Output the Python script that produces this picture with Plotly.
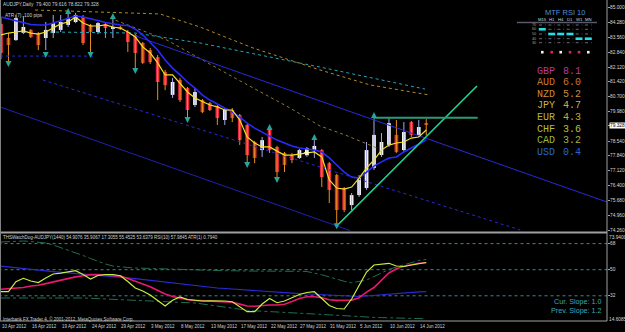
import plotly.graph_objects as go

# ---------------- data ----------------
bars = list(range(58))
date_pos = [0, 4, 8, 12, 16, 20, 24, 28, 32, 36, 40, 44, 48, 52, 56]
date_labels = ["10 Apr 2012", "16 Apr 2012", "19 Apr 2012", "24 Apr 2012", "29 Apr 2012",
               "3 May 2012", "8 May 2012", "13 May 2012", "17 May 2012", "22 May 2012",
               "27 May 2012", "31 May 2012", "5 Jun 2012", "10 Jun 2012", "14 Jun 2012"]

open_p = [84.20, 83.52, 83.42, 83.77, 83.91, 83.76, 83.52, 83.76, 83.91, 84.15,
          84.29, 84.53, 84.15, 83.81, 84.20, 83.96, 84.05, 83.81, 83.67, 83.28,
          82.94, 82.60, 81.88, 80.78, 81.50, 81.11, 80.29, 80.53, 80.39, 80.24,
          79.57, 80.05, 79.81, 79.33, 78.51, 78.12, 79.09, 78.27, 77.98, 77.88,
          77.74, 77.88, 78.12, 78.12, 77.49, 76.92, 76.29, 75.47, 75.95, 76.29,
          77.26, 77.88, 78.37, 78.85, 78.12, 79.47, 78.85, 79.400]
high_p = [84.50, 83.76, 84.63, 84.58, 83.95, 83.81, 84.29, 84.63, 84.63, 84.73,
          84.73, 84.63, 84.20, 84.29, 84.24, 84.48, 84.10, 83.91, 83.71, 83.33,
          83.04, 82.70, 81.98, 81.60, 81.60, 81.16, 81.11, 80.58, 80.44, 80.29,
          80.14, 80.14, 79.86, 79.38, 78.56, 78.75, 79.18, 78.32, 78.03, 77.98,
          78.17, 78.27, 78.60, 78.17, 77.55, 76.97, 76.34, 76.05, 76.92, 78.51,
          79.66, 78.94, 79.66, 79.57, 79.47, 79.52, 79.57, 79.616]
low_p = [82.50, 82.36, 83.38, 83.71, 83.52, 82.94, 82.94, 83.52, 83.81, 84.05,
         84.24, 83.18, 82.80, 83.71, 83.52, 83.52, 83.91, 82.85, 82.07, 82.27,
         82.27, 80.53, 81.01, 80.63, 80.44, 79.66, 80.19, 79.90, 80.00, 79.33,
         79.33, 79.47, 78.37, 77.49, 77.49, 77.79, 77.98, 76.82, 77.06, 77.49,
         77.69, 77.79, 77.74, 76.34, 75.57, 74.46, 75.13, 75.23, 75.86, 76.20,
         77.16, 77.79, 78.27, 77.98, 78.03, 78.75, 78.75, 78.822]
close_p = [82.80, 83.18, 84.48, 84.05, 83.57, 83.18, 83.91, 84.24, 84.29, 84.48,
           84.63, 83.28, 83.81, 84.24, 84.00, 84.05, 83.96, 83.33, 82.80, 82.32,
           82.36, 81.40, 81.25, 81.40, 80.53, 80.05, 80.92, 79.95, 80.05, 79.66,
           80.05, 79.66, 78.60, 77.88, 77.74, 78.60, 78.12, 77.06, 77.40, 77.64,
           78.12, 78.22, 78.32, 76.82, 76.20, 75.23, 75.23, 75.95, 76.77, 78.12,
           78.85, 78.51, 79.42, 78.03, 78.99, 78.85, 79.23, 79.328]

fast_ma = [83.67, 83.76, 83.81, 83.86, 83.76, 83.71, 83.81, 84.00, 84.20, 84.29,
           84.53, 84.24, 84.10, 84.10, 84.15, 84.05, 84.00, 83.81, 83.57, 83.09,
           82.80, 82.32, 81.74, 81.74, 81.35, 80.92, 80.63, 80.44, 80.29, 80.20,
           80.05, 80.05, 79.57, 78.75, 78.46, 78.27, 78.27, 78.07, 77.88, 77.88,
           77.93, 77.98, 78.03, 77.79, 76.68, 76.29, 76.24, 76.34, 76.77, 77.26,
           77.64, 78.12, 78.36, 78.46, 78.51, 78.70, 78.75, 79.09]
slow_ma = [84.53, 84.44, 84.34, 84.24, 84.17, 84.15, 84.15, 84.24, 84.36, 84.48,
           84.58, 84.53, 84.46, 84.36, 84.27, 84.20, 84.15, 84.12, 83.95, 83.67,
           83.33, 82.94, 82.46, 82.07, 81.74, 81.40, 81.11, 80.77, 80.53, 80.34,
           80.15, 79.95, 79.71, 79.42, 79.18, 78.99, 78.80, 78.60, 78.46, 78.32,
           78.22, 78.17, 78.12, 78.03, 77.74, 77.40, 77.06, 76.82, 76.77, 77.06,
           77.35, 77.55, 77.74, 77.79, 78.03, 78.22, 78.41, 78.60]

# channel / trend lines (bar index, price)
chan_up_x, chan_up_y = [17, 81.2], [83.75, 75.62]
chan_lo_x, chan_lo_y = [-0.13, 46.8], [80.20, 74.24]
chan_mid_x, chan_mid_y = [5.6, 69.6], [81.50, 74.27]
chan_flat_x, chan_flat_y = [-0.13, 12.6], [82.65, 82.65]
cyan_ma_x = [6.57, 17.96, 26.68, 42.76, 56.84]
cyan_ma_y = [83.81, 83.76, 83.28, 82.12, 81.06]
gold_ma_x = [4.56, 21.31, 26.68, 33.78, 42.76, 49.46, 57.5]
gold_ma_y = [84.87, 84.68, 84.05, 83.04, 81.98, 81.26, 80.77]
olive_ma_x = [14.61, 22.25, 31.1, 38.74, 42.76, 46.11, 50.4]
olive_ma_y = [84.48, 83.42, 81.64, 80.15, 79.28, 78.85, 78.22]
trend_up_x, trend_up_y = [45, 63.8], [74.46, 81.21]
trend_h_x, trend_h_y = [50, 63.9], [79.68, 79.68]

frac_up_x = [9, 15, 36, 42, 50]
frac_up_y = [84.97, 84.73, 79.38, 78.89, 79.95]
frac_dn_x = [1, 6, 12, 18, 25, 33, 37, 45]
frac_dn_y = [82.12, 82.56, 82.56, 81.79, 79.42, 77.26, 76.53, 74.30]
star_x, star_y = [41], [77.98]

price_ticks = [85.000, 84.280, 83.560, 82.840, 82.120, 81.420, 80.700, 79.980,
               78.540, 77.840, 77.120, 76.400, 75.680, 74.960, 74.260]
last_price = 79.328

# lower window
rsi = [34.82, 34.82, 41.72, 44.07, 42.20, 41.17, 44.27, 47.03, 47.59, 48.41,
       49.31, 46.69, 43.58, 46.00, 46.69, 46.69, 45.86, 41.86, 37.38, 35.31,
       32.55, 28.75, 24.96, 28.96, 31.17, 29.44, 28.75, 28.41, 28.55, 28.61,
       28.41, 27.92, 24.27, 21.03, 21.03, 26.34, 30.13, 27.23, 28.41, 30.48,
       32.89, 34.27, 34.82, 30.13, 25.30, 23.23, 22.89, 29.79, 39.45, 48.41,
       53.24, 53.93, 54.42, 52.55, 52.21, 53.24, 54.28, 54.97]
rsi_ma = [36.48, 36.76, 36.96, 37.72, 38.76, 39.24, 40.41, 41.65, 42.96, 44.07,
          45.03, 45.79, 46.62, 46.69, 46.48, 46.14, 45.58, 44.00, 42.27, 40.20,
          38.20, 35.72, 33.24, 31.44, 30.27, 29.37, 28.82, 28.54, 28.41, 28.20,
          28.06, 27.58, 26.27, 24.96, 24.82, 25.37, 25.65, 25.65, 26.13, 28.06,
          30.20, 31.37, 31.37, 30.68, 29.30, 28.82, 28.68, 29.03, 30.68, 34.55,
          37.72, 42.76, 47.72, 50.62, 52.42, 53.38, 54.42, 54.76]
rsi_slow = [52.48, 51.86, 51.24, 50.62, 50.00, 49.59, 49.17, 48.69, 48.28, 47.93,
            47.52, 47.17, 46.76, 46.34, 45.93, 45.45, 45.03, 44.41, 43.79, 43.17,
            42.55, 41.93, 41.38, 40.76, 40.20, 39.58, 39.03, 38.41, 37.79, 37.38,
            37.03, 36.62, 36.28, 35.87, 35.52, 35.10, 34.76, 34.48, 34.13, 33.86,
            33.58, 33.38, 33.10, 32.89, 32.69, 32.41, 32.13, 31.79, 31.51, 31.86,
            32.34, 32.75, 33.10, 33.51, 33.93, 34.34, 34.76, 34.89]
band_up = [69.11, 69.46, 69.80, 69.80, 69.46, 69.11, 68.42, 67.04, 65.32, 63.59,
           61.87, 59.80, 57.73, 55.66, 53.93, 52.55, 51.86, 51.52, 51.17, 50.97,
           50.76, 50.55, 50.41, 50.28, 50.14, 50.00, 49.86, 49.72, 49.59, 49.45,
           49.31, 49.17, 49.03, 49.00, 49.00, 49.00, 49.00, 49.10, 49.03, 48.97,
           48.90, 48.76, 47.86, 46.48, 45.03, 43.31, 42.00, 40.96, 41.86, 42.83,
           45.30, 48.00, 50.21, 51.86, 53.52, 55.11, 56.35, 57.04]
band_lo = [30.48, 30.48, 30.48, 30.61, 30.75, 30.89, 30.96, 30.96, 30.89, 30.75,
           30.61, 30.48, 30.27, 30.06, 29.79, 29.58, 29.37, 29.10, 28.89, 28.68,
           28.41, 28.20, 27.99, 27.72, 27.51, 27.23, 27.03, 26.34, 25.65, 24.82,
           23.99, 23.16, 22.54, 22.06, 21.65, 21.30, 20.96, 20.68, 20.41, 20.20,
           19.99, 19.71, 19.44, 19.09, 18.75, 18.40, 18.06, 17.71, 17.44, 17.23,
           17.09, 16.95, 16.82, 16.68, 16.54, 16.40, 16.27, 16.13]
rsi_levels = [68, 50, 32]
low_top, low_bottom = 73.9400, 14.6085

currencies = ["GBP", "AUD", "NZD", "JPY", "EUR", "CHF", "CAD", "USD"]
strength = [8.1, 6.0, 5.2, 4.7, 4.3, 3.6, 3.2, 0.4]
mtf_tf = ["M15", "H1", "H4", "D1", "W1", "MN"]
mtf_row = [1, 2, 2, 2, 3, 3]           # zone row holding the cyan mark
mtf_up = [True, False, True, False, False, True]
mtf_levels = ["70", "60", "50", "40", "30"]

# ---------------- layout helpers ----------------
W, H = 625, 332
PW, PH = 607, 321
X0, X1 = -0.134, 81.23
def px(x): return x / PW
def py(y): return (PH - y) / PH

FONT = "Liberation Sans"
fig = go.Figure()

# candles
wbx, wby, wrx, wry = [], [], [], []
for i in bars:
    if close_p[i] >= open_p[i]:
        wbx += [i, i, None]; wby += [low_p[i], high_p[i], None]
    else:
        wrx += [i, i, None]; wry += [low_p[i], high_p[i], None]
fig.add_trace(go.Scatter(x=wbx, y=wby, mode="lines", line=dict(color="#a8a8e8", width=1), hoverinfo="skip"))
fig.add_trace(go.Scatter(x=wrx, y=wry, mode="lines", line=dict(color="#e8901c", width=1), hoverinfo="skip"))
base = [min(o, c) for o, c in zip(open_p, close_p)]
hgt = [max(abs(c - o), 0.03) for o, c in zip(open_p, close_p)]
cols = ["#f4f4f4" if c >= o else "#e8283c" for o, c in zip(open_p, close_p)]
fig.add_trace(go.Bar(x=bars, y=hgt, base=base, width=0.5, marker=dict(color=cols, line=dict(width=0)), hoverinfo="skip"))

def line(x, y, color, width=1, dash=None, xa="x", ya="y"):
    fig.add_trace(go.Scatter(x=x, y=y, mode="lines", xaxis=xa, yaxis=ya, hoverinfo="skip",
                             line=dict(color=color, width=width, dash=dash)))

line(gold_ma_x, gold_ma_y, "#b08a20", 1, "dot")
line(olive_ma_x, olive_ma_y, "#8a7a30", 1, "dot")
line(cyan_ma_x, cyan_ma_y, "#20a8b8", 1, "dot")
line(chan_up_x, chan_up_y, "#2a2ad8", 1)
line(chan_lo_x, chan_lo_y, "#2020b0", 1)
line(chan_mid_x, chan_mid_y, "#2a2ad0", 1, "dot")
line(chan_flat_x, chan_flat_y, "#2a2ad0", 1, "dot")
line(bars, slow_ma, "#2a2aff", 1.6)
line(bars, fast_ma, "#f5e11c", 1.2)
line(trend_up_x, trend_up_y, "#20d890", 1.6)
line(trend_h_x, trend_h_y, "#2a9a7a", 2)

fig.add_trace(go.Scatter(x=frac_up_x, y=frac_up_y, mode="markers", hoverinfo="skip",
                         marker=dict(symbol="arrow-up", size=6, color="#26a69a")))
fig.add_trace(go.Scatter(x=frac_dn_x, y=frac_dn_y, mode="markers", hoverinfo="skip",
                         marker=dict(symbol="arrow-down", size=6, color="#26a69a")))
fig.add_trace(go.Scatter(x=star_x, y=star_y, mode="markers", hoverinfo="skip",
                         marker=dict(symbol="star", size=5, color="#ffffb0")))

# lower window
for lv in rsi_levels:
    line([X0 - 1, X1 + 1], [lv, lv], "#2e8b9a", 1, "dot", "x2", "y2")
line(bars, band_up, "#1f7050", 1, "dashdot", "x2", "y2")
line(bars, band_lo, "#1f7050", 1, "dashdot", "x2", "y2")
line(bars, rsi_slow, "#2a2ad0", 1.2, None, "x2", "y2")
line(bars, rsi_ma, "#e8186f", 1.6, None, "x2", "y2")
line(bars, rsi, "#c8f03c", 1.2, None, "x2", "y2")

ann = []
def text(x, y, s, size=4.5, color="#d0d0d0", xanchor="left", family=FONT, **kw):
    ann.append(dict(x=px(x), y=py(y), xref="paper", yref="paper", text=s, showarrow=False,
                    xanchor=xanchor, yanchor="middle", font=dict(size=size, color=color, family=family),
                    borderpad=0, **kw))

text(2, 4.5, "AUDJPY,Daily  79.400 79.616 78.822 79.328", 4.8)
text(4, 15.5, "ATR (7): 100 pips", 4.8)
text(2, 237.5, "THSWatchDog-AUDJPY(1440) 54.9076 35.9067 17.3055 55.4525 53.6379 RSI(10) 57.9845 ATR(1) 0.7940")
text(2, 319, "Interbank FX Trader 4, © 2001-2012, MetaQuotes Software Corp.")
text(603, 301, "Cur. Slope: 1.0", 7.2, "#3aaabb", "right")
text(603, 310.5, "Prev. Slope: 1.2", 7.2, "#3aaabb", "right")

# date labels
for p, s in zip(date_pos, date_labels):
    ann.append(dict(x=p, y=0, xref="x2", yref="paper", text=s, showarrow=False, xanchor="left",
                    yanchor="top", yshift=-2, font=dict(size=4.5, color="#d0d0d0", family=FONT), borderpad=0))

# right-axis labels
AX = dict(size=4.8, color="#d8d8d8", family=FONT)
for v in price_ticks:
    ann.append(dict(x=1, y=v, xref="paper", yref="y", text=f"{v:.3f}", showarrow=False, xanchor="left",
                    xshift=2, font=AX, borderpad=0))
ann.append(dict(x=1, y=last_price, xref="paper", yref="y", text=f"{last_price:.3f}", showarrow=False,
                xanchor="left", xshift=2, font=dict(size=4.8, color="#000000", family=FONT),
                bgcolor="#ffffff", borderpad=0))
for v in rsi_levels:
    ann.append(dict(x=1, y=v, xref="paper", yref="y2", text=str(v), showarrow=False, xanchor="left",
                    xshift=2, font=AX, borderpad=0))
for v, s in [(low_top, "73.9400"), (low_bottom, "14.6085")]:
    ann.append(dict(x=1, y=v, xref="paper", yref="y2", text=s, showarrow=False, xanchor="left",
                    xshift=1, yshift=(-2 if v == low_top else 2), font=AX, borderpad=0))

# currency strength list
cur_cols = ["#b8389a", "#c8782a", "#c88c3c", "#c8b43c", "#b4b432", "#b4c040", "#a0b43c", "#2a68c8"]
for k, (c, v) in enumerate(zip(currencies, strength)):
    yy = 71 + 11.6 * k
    text(536, yy, c, 10, cur_cols[k], family="Liberation Mono")
    text(562, yy, f"{v:.1f}", 10, cur_cols[k], family="Liberation Mono")

# MTF RSI panel
shapes = []
text(565, 12.5, "MTF RSI 10", 7.5, "#4a90d8", "center")
col_x = [542.3, 551.7, 560.7, 570, 579, 588.3]
row_y = [25, 29.3, 34, 38.7, 42.7]
for cx, tf in zip(col_x, mtf_tf):
    text(cx, 19, tf, 4.2, "#d8d8d8", "center")
for ry, lv in zip(row_y, mtf_levels):
    text(534, ry, lv, 3.8, "#a0a0a0", "center")
shapes.append(dict(type="line", xref="paper", yref="paper", x0=px(517), x1=px(597), y0=py(22.5), y1=py(22.5),
                   line=dict(color="#5a5a6a", width=1.5)))
for j, cx in enumerate(col_x):
    for r, ry in enumerate(row_y):
        if r == mtf_row[j]:
            shapes.append(dict(type="rect", xref="paper", yref="paper", x0=px(cx - 3.5), x1=px(cx + 3.5),
                               y0=py(ry + 1.3), y1=py(ry - 1.3), fillcolor="#20e0e8", line=dict(width=0)))
        else:
            shapes.append(dict(type="line", xref="paper", yref="paper", x0=px(cx - 3.3), x1=px(cx + 3.3),
                               y0=py(ry), y1=py(ry), line=dict(color="#6a6a7a", width=1, dash="dot")))
    shapes.append(dict(type="rect", xref="paper", yref="paper", x0=px(cx - 1.3), x1=px(cx + 1.3),
                       y0=py(53.5), y1=py(50.9), fillcolor="#f4f4e0" if mtf_up[j] else "#e0206a",
                       line=dict(width=0)))

# frame lines
shapes += [
    dict(type="line", xref="paper", yref="paper", x0=0, x1=1, y0=py(232.5), y1=py(232.5), line=dict(color="#a0a0a0", width=2)),
    dict(type="line", xref="paper", yref="paper", x0=1, x1=1, y0=0, y1=1, line=dict(color="#a0a0a0", width=1)),
    dict(type="line", xref="paper", yref="paper", x0=0, x1=1, y0=0, y1=0, line=dict(color="#a0a0a0", width=1)),
    dict(type="line", xref="paper", yref="paper", x0=px(0.5), x1=px(0.5), y0=0, y1=1, line=dict(color="#808080", width=1)),
]

fig.update_layout(
    width=W, height=H, margin=dict(l=0, r=18, t=0, b=11),
    paper_bgcolor="#000000", plot_bgcolor="#000000", showlegend=False, barmode="overlay",
    xaxis=dict(domain=[0, 1], range=[X0, X1], showgrid=False, zeroline=False, showticklabels=False,
               anchor="y"),
    xaxis2=dict(domain=[0, 1], range=[X0, X1], showgrid=False, zeroline=False, showticklabels=False,
                anchor="y2", matches="x"),
    yaxis=dict(domain=[py(231), 1], range=[74.22, 85.352], side="right", showgrid=False, zeroline=False,
               tickvals=price_ticks + [last_price], showticklabels=False,
               ticks="outside", ticklen=2, tickcolor="#a0a0a0", automargin=False, anchor="x"),
    yaxis2=dict(domain=[0, py(235)], range=[low_bottom, low_top], side="right", showgrid=False, zeroline=False,
                tickvals=rsi_levels, showticklabels=False,
                ticks="outside", ticklen=2, tickcolor="#a0a0a0", automargin=False, anchor="x2"),
    annotations=ann, shapes=shapes,
)
fig.write_html("out.html")
